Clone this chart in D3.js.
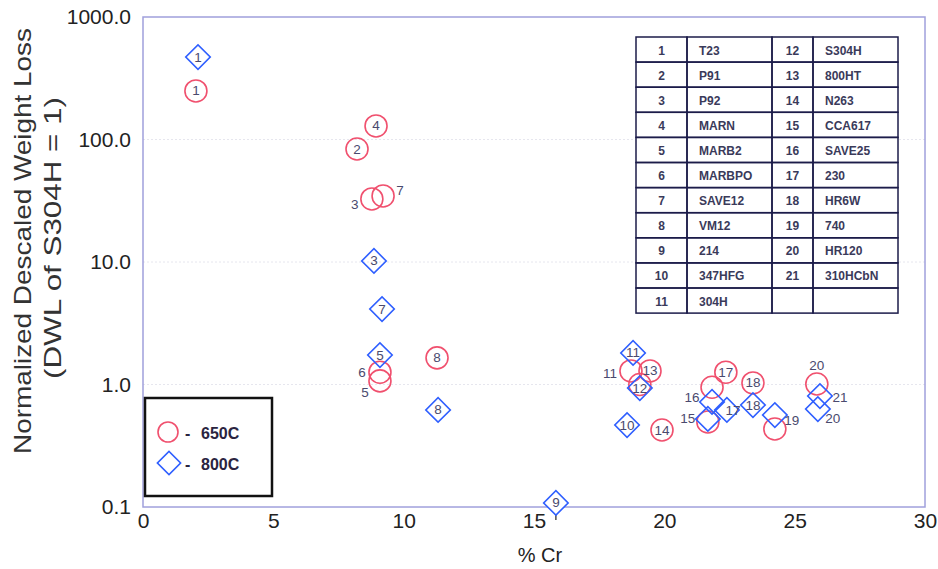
<!DOCTYPE html>
<html>
<head>
<meta charset="utf-8">
<script src="https://cdn.jsdelivr.net/npm/d3@7"></script>
<style>
  body { margin: 0; background: white; }
  svg { font-family: Arial, "Liberation Sans", Helvetica, sans-serif; }
</style>
</head>
<body>
<div id="chart"></div>
<script>
// alloy key (id -> name)
const alloyIds = [1, 2, 3, 4, 5, 6, 7, 8, 9, 10, 11, 12, 13, 14, 15, 16, 17, 18, 19, 20, 21];
const alloyNames = ["T23", "P91", "P92", "MARN", "MARB2", "MARBPO", "SAVE12", "VM12", "214", "347HFG",
    "304H", "S304H", "800HT", "N263", "CCA617", "SAVE25", "230", "HR6W", "740", "HR120", "310HCbN"];

// 650C results
const ids650 = [1, 2, 3, 4, 5, 6, 7, 8, 11, 12, 13, 14, 15, 16, 17, 18, 19, 20];
const cr650 = [2.03, 8.21, 8.78, 8.94, 9.09, 9.09, 9.21, 11.28, 18.72, 19.06, 19.45, 19.91, 21.67, 21.83, 22.36, 23.40, 24.24, 25.85];
const dwl650 = [249, 83.6, 32.7, 129, 1.07, 1.26, 34.6, 1.65, 1.29, 1.0, 1.29, 0.425, 0.494, 0.95, 1.26, 1.03, 0.433, 1.01];

// 800C results
const ids800 = [1, 3, 5, 7, 8, 9, 10, 11, 12, 15, 16, 17, 18, 19, 20, 21];
const cr800 = [2.11, 8.86, 9.09, 9.17, 11.32, 15.84, 18.57, 18.80, 19.06, 21.67, 21.83, 22.40, 23.40, 24.24, 25.89, 25.97];
const dwl800 = [471, 10.2, 1.74, 4.13, 0.62, 0.108, 0.467, 1.81, 0.936, 0.523, 0.72, 0.62, 0.68, 0.563, 0.63, 0.805];

const xTicks = [0, 5, 10, 15, 20, 25, 30];
const yTicks = [0.1, 1, 10, 100, 1000];

// where the number sits when it does not fit inside the marker
const labelOffset650 = { 3: [-17, 6], 5: [-15, 12], 6: [-18, 0], 7: [17, -5], 11: [-21, 3], 20: [0, -18] };
const labelOffset800 = { 15: [-20, 0], 16: [-20, -4], 17: [6, 1], 19: [17, 5], 20: [15, 9], 21: [20, 1] };
// these circles share the number of the diamond next to them
const noLabel650 = [12, 15, 16, 19];

const W = 938, H = 569;
const plotLeft = 143, plotRight = 925, plotTop = 17, plotBottom = 507;
const red = "#f0506e";
const blue = "#2f5fff";
const labelColor = "#4a4a6e";

const svg = d3.select("#chart").append("svg")
    .attr("width", W)
    .attr("height", H);

const x = d3.scaleLinear([0, 30], [plotLeft, plotRight]);
const y = d3.scaleLog([0.1, 1000], [plotBottom, plotTop]);

// faint decade lines
svg.append("g")
    .selectAll("line")
    .data([1, 10, 100])
    .enter()
    .append("line")
    .attr("x1", plotLeft)
    .attr("x2", plotRight)
    .attr("y1", d => y(d))
    .attr("y2", d => y(d))
    .attr("stroke", "#e6e6ee")
    .attr("stroke-dasharray", "2,2");

// frame
svg.append("rect")
    .attr("x", plotLeft)
    .attr("y", plotTop)
    .attr("width", plotRight - plotLeft)
    .attr("height", plotBottom - plotTop)
    .attr("fill", "none")
    .attr("stroke", "#a0a0dc")
    .attr("stroke-width", 1.5);

let yAxis = d3.axisLeft(y).tickValues(yTicks).tickFormat(d3.format(".1f")).tickSize(0).tickPadding(12);
svg.append("g")
    .attr("transform", `translate(${plotLeft}, 0)`)
    .call(yAxis)
    .selectAll("text")
    .attr("font-size", 21)
    .attr("font-family", "Arial, 'Liberation Sans', sans-serif")
    .attr("fill", "#222");

let xAxis = d3.axisBottom(x).tickValues(xTicks).tickFormat(d3.format("d")).tickSize(0).tickPadding(6);
svg.append("g")
    .attr("transform", `translate(0, ${plotBottom})`)
    .call(xAxis)
    .selectAll("text")
    .attr("font-size", 21)
    .attr("font-family", "Arial, 'Liberation Sans', sans-serif")
    .attr("fill", "#222");

svg.selectAll(".domain").remove();

svg.append("text")
    .attr("x", 540)
    .attr("y", 562)
    .attr("text-anchor", "middle")
    .attr("font-size", 20)
    .attr("fill", "#222")
    .text("% Cr");

svg.append("text")
    .attr("transform", "translate(31, 241) rotate(-90)")
    .attr("text-anchor", "middle")
    .attr("font-size", 24)
    .attr("textLength", 426)
    .attr("lengthAdjust", "spacingAndGlyphs")
    .attr("fill", "#333")
    .text("Normalized Descaled Weight Loss");
svg.append("text")
    .attr("transform", "translate(61, 238) rotate(-90)")
    .attr("text-anchor", "middle")
    .attr("font-size", 24)
    .attr("textLength", 282)
    .attr("lengthAdjust", "spacingAndGlyphs")
    .attr("fill", "#333")
    .text("(DWL of S304H = 1)");

// data rows
let pts650 = ids650.map((id, i) => ({ id: id, cr: cr650[i], dwl: dwl650[i] }));
let pts800 = ids800.map((id, i) => ({ id: id, cr: cr800[i], dwl: dwl800[i] }));

svg.append("g")
    .selectAll("circle")
    .data(pts650)
    .enter()
    .append("circle")
    .attr("cx", d => x(d.cr))
    .attr("cy", d => y(d.dwl))
    .attr("r", 11)
    .attr("fill", "none")
    .attr("stroke", red)
    .attr("stroke-width", 1.6);

const diamond = d3.symbol(d3.symbolSquare, 300);

// the odd little tick under alloy 9
svg.append("g")
    .selectAll("line")
    .data(pts800.filter(d => d.id == 9))
    .enter()
    .append("line")
    .attr("x1", d => x(d.cr))
    .attr("x2", d => x(d.cr))
    .attr("y1", plotBottom + 1)
    .attr("y2", plotBottom + 13)
    .attr("stroke", "#222")
    .attr("stroke-width", 1.2);

svg.append("g")
    .selectAll("path")
    .data(pts800)
    .enter()
    .append("path")
    .attr("d", diamond)
    .attr("transform", d => `translate(${x(d.cr)}, ${y(d.dwl)}) rotate(45)`)
    .attr("fill", d => d.id == 9 ? "white" : "none")
    .attr("stroke", blue)
    .attr("stroke-width", 1.6);

function addLabels(pts, offsets) {
    svg.append("g")
        .selectAll("text")
        .data(pts)
        .enter()
        .append("text")
        .attr("x", d => x(d.cr) + (offsets[d.id] ? offsets[d.id][0] : 0))
        .attr("y", d => y(d.dwl) + (offsets[d.id] ? offsets[d.id][1] : 0))
        .attr("text-anchor", "middle")
        .attr("dominant-baseline", "central")
        .attr("font-size", 13.5)
        .attr("fill", labelColor)
        .text(d => d.id);
}
addLabels(pts650.filter(d => !noLabel650.includes(d.id)), labelOffset650);
addLabels(pts800, labelOffset800);

// key table
const tableX = [636, 687, 772, 813, 898];
const tableTop = 37, rowH = 25.1;
const nRows = 11;
let cells = [];
for (let r = 0; r < nRows; r++) {
    let a = alloyIds[r];
    let b = alloyIds[r + nRows];
    cells.push({ row: r, col: 0, text: a, anchor: "middle" });
    cells.push({ row: r, col: 1, text: alloyNames[r], anchor: "start" });
    cells.push({ row: r, col: 2, text: b ? b : "", anchor: "middle" });
    cells.push({ row: r, col: 3, text: b ? alloyNames[r + nRows] : "", anchor: "start" });
}
const table = svg.append("g");
table.append("rect")
    .attr("x", tableX[0])
    .attr("y", tableTop)
    .attr("width", tableX[4] - tableX[0])
    .attr("height", rowH * nRows)
    .attr("fill", "white");
table.selectAll("rect.cell")
    .data(cells)
    .enter()
    .append("rect")
    .attr("class", "cell")
    .attr("x", d => tableX[d.col])
    .attr("y", d => tableTop + d.row * rowH)
    .attr("width", d => tableX[d.col + 1] - tableX[d.col])
    .attr("height", rowH)
    .attr("fill", "none")
    .attr("stroke", "#1c1c4a")
    .attr("stroke-width", 1.5);
table.selectAll("text")
    .data(cells)
    .enter()
    .append("text")
    .attr("x", d => d.anchor == "middle" ? (tableX[d.col] + tableX[d.col + 1]) / 2 : tableX[d.col] + 12)
    .attr("y", d => tableTop + d.row * rowH + rowH / 2 + 1)
    .attr("text-anchor", d => d.anchor)
    .attr("dominant-baseline", "central")
    .attr("font-size", 12)
    .attr("font-weight", "bold")
    .attr("fill", "#3a3a5a")
    .text(d => d.text);

// legend
const legend = svg.append("g");
legend.append("rect")
    .attr("x", 145)
    .attr("y", 398)
    .attr("width", 127)
    .attr("height", 98)
    .attr("fill", "white")
    .attr("stroke", "#111")
    .attr("stroke-width", 2.5);
legend.append("circle")
    .attr("cx", 168)
    .attr("cy", 432)
    .attr("r", 10)
    .attr("fill", "none")
    .attr("stroke", red)
    .attr("stroke-width", 1.6);
legend.append("path")
    .attr("d", d3.symbol(d3.symbolSquare, 270))
    .attr("transform", "translate(169, 463) rotate(45)")
    .attr("fill", "none")
    .attr("stroke", blue)
    .attr("stroke-width", 1.6);
let legendRows = legend.selectAll("g.row")
    .data(["650C", "800C"])
    .enter()
    .append("g")
    .attr("class", "row")
    .attr("transform", (d, i) => `translate(0, ${433 + i * 31})`);
legendRows.append("text")
    .attr("x", 185)
    .attr("dominant-baseline", "central")
    .attr("font-size", 16)
    .attr("font-weight", "bold")
    .attr("fill", "#2a2440")
    .text("-");
legendRows.append("text")
    .attr("x", 201)
    .attr("dominant-baseline", "central")
    .attr("font-size", 16)
    .attr("font-weight", "bold")
    .attr("fill", "#2a2440")
    .text(d => d);
</script>
</body>
</html>
